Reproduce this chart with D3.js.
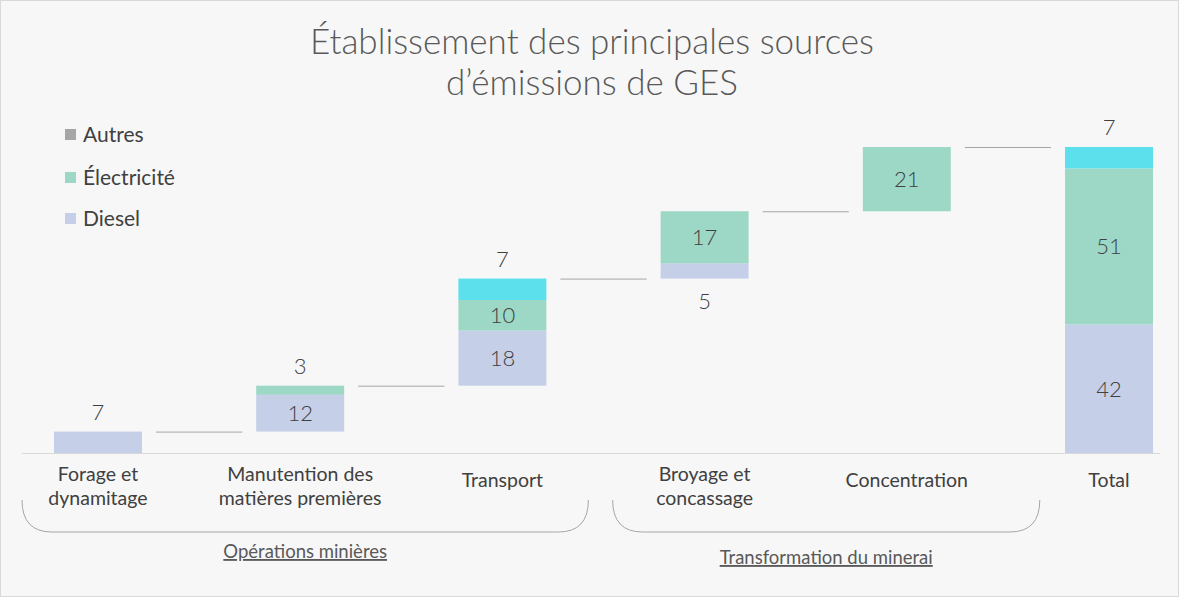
<!DOCTYPE html><html><head><meta charset="utf-8">
<script src="https://cdn.jsdelivr.net/npm/d3@7"></script>
<style>body{margin:0;background:#fff}svg{display:block}text{font-family:"Lato","Open Sans",sans-serif;fill:#404040}</style>
</head><body><svg id="c" width="1180" height="598"></svg>
<script>
const categories=["Forage et|dynamitage","Manutention des|matières premières","Transport","Broyage et|concassage","Concentration","Total"];
const diesel=[7,12,18,5,0,42];
const electricite=[0,3,10,17,21,51];
const autres=[0,0,7,0,0,7];
const isTotal=[false,false,false,false,false,true];
const groups=[{name:"Opérations minières",from:0,to:2},{name:"Transformation du minerai",from:3,to:4}];
const colors={d:"#c5cfe8",e:"#9dd8c6",a:"#5ce0ec"};

const svg=d3.select("#c");
svg.append("rect").attr("x",0.5).attr("y",0.5).attr("width",1178).attr("height",596).attr("fill","#f7f7f7").attr("stroke","#d9d9d9");
svg.append("text").attr("x",592).attr("y",54).attr("text-anchor","middle").attr("font-size",35).attr("font-weight",300).style("fill","#595959").text("Établissement des principales sources");
svg.append("text").attr("x",592).attr("y",95).attr("text-anchor","middle").attr("font-size",35).attr("font-weight",300).style("fill","#595959").text("d’émissions de GES");

const x=d3.scaleBand().domain(d3.range(categories.length)).range([54,1153]).paddingInner(0.565).paddingOuter(0);
const y=d3.scaleLinear().domain([0,100]).range([453,147]);
svg.append("line").attr("x1",22).attr("x2",1160).attr("y1",453.5).attr("y2",453.5).attr("stroke","#d9d9d9");

let cum=0;const tops=[];
categories.forEach((c,i)=>{
  let base=isTotal[i]?0:cum;
  const segs=[["d",diesel[i]],["e",electricite[i]],["a",autres[i]]];
  let b=base;const bx=x(i),bw=x.bandwidth();
  segs.forEach(([k,v])=>{
    if(!v)return;
    svg.append("rect").attr("x",bx).attr("y",y(b+v)).attr("width",bw).attr("height",y(b)-y(b+v)).attr("fill",colors[k]);
    const h=y(b)-y(b+v);
    let ty;
    if(h>=25) ty=(y(b)+y(b+v))/2+8;
    else if(k==="d"&&i===3) ty=y(b)+30;
    else ty=y(b+v)-12;
    svg.append("text").attr("x",bx+bw/2).attr("y",ty).attr("text-anchor","middle").attr("font-size",22).attr("font-weight",300).text(v);
    b+=v;
  });
  tops.push(b);
  if(!isTotal[i])cum=b;
  const lines=c.split("|");
  lines.forEach((l,li)=>svg.append("text").attr("x",bx+bw/2).attr("y",(lines.length>1?481:487)+li*24).attr("text-anchor","middle").attr("font-size",19.5).text(l));
});
for(let i=0;i<categories.length-1;i++){
  svg.append("line").attr("x1",x(i)+x.bandwidth()+14).attr("x2",x(i+1)-14).attr("y1",y(tops[i])+0.5).attr("y2",y(tops[i])+0.5).attr("stroke","#a6a6a6");
}
groups.forEach((g,gi)=>{
  const x0=x(g.from)-(gi===0?32:48),x1=x(g.to)+x.bandwidth()+(gi===0?42:89);
  svg.append("path").attr("d",`M${x0},500 Q${x0},532 ${x0+30},532 L${x1-30},532 Q${x1},532 ${x1},500`).attr("fill","none").attr("stroke","#a6a6a6");
  svg.append("text").attr("x",(x0+x1)/2).attr("y",gi===0?558:564).attr("text-anchor","middle").attr("font-size",18.5).attr("text-decoration","underline").style("fill","#595959").text(g.name);
});
[["Autres","#a6a6a6",137],["Électricité",colors.e,180],["Diesel",colors.d,221]].forEach(([n,c,yy])=>{
  svg.append("rect").attr("x",65).attr("y",yy-8).attr("width",11).attr("height",11).attr("fill",c);
  svg.append("text").attr("x",83).attr("y",yy+5).attr("font-size",21).text(n);
});
</script></body></html>
